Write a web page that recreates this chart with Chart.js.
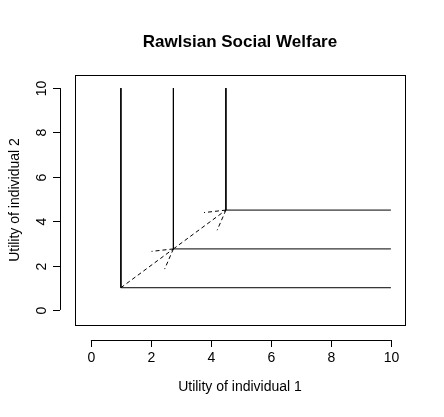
<!DOCTYPE html>
<html><head><script src="https://cdn.jsdelivr.net/npm/chart.js@4"></script>
<style>body{margin:0;background:#fff}#w{width:444px;height:417px}</style></head>
<body><div id="w"><canvas id="c"></canvas></div>
<script>
const title = "Rawlsian Social Welfare";
const xLabel = "Utility of individual 1";
const yLabel = "Utility of individual 2";
const xTicks = [0,2,4,6,8,10];
const yTicks = [0,2,4,6,8,10];
const curve1 = [{x:1,y:10},{x:1,y:1},{x:10,y:1}];
const curve2 = [{x:2.75,y:10},{x:2.75,y:2.75},{x:10,y:2.75}];
const curve3 = [{x:4.5,y:10},{x:4.5,y:4.5},{x:10,y:4.5}];
const arrow1 = [{x:1,y:1},{x:2.75,y:2.75}];
const arrow2 = [{x:2.75,y:2.75},{x:4.5,y:4.5}];
const F = "'Liberation Sans', Arial, sans-serif";

const ln = (d, dash) => ({data:d, borderColor:'#000', borderWidth:1, pointRadius:0, showLine:true, fill:false, borderDash:dash||[]});

const deco = {
  id:'deco',
  afterDraw(ch){
    const c = ch.ctx, a = ch.chartArea, xs = ch.scales.x, ys = ch.scales.y;
    c.save();
    c.strokeStyle='#000'; c.fillStyle='#000'; c.lineWidth=1;
    c.strokeRect(a.left+0.5, a.top+0.5, a.right-a.left, a.bottom-a.top);
    [arrow1, arrow2].forEach(ar=>{
      const x0=xs.getPixelForValue(ar[0].x), y0=ys.getPixelForValue(ar[0].y);
      const x1=xs.getPixelForValue(ar[1].x), y1=ys.getPixelForValue(ar[1].y);
      const ang=Math.atan2(y1-y0,x1-x0), L=22;
      c.setLineDash([4,3]);
      [Math.PI/6,-Math.PI/6].forEach(d=>{
        c.beginPath(); c.moveTo(x1,y1);
        c.lineTo(x1-L*Math.cos(ang+d), y1-L*Math.sin(ang+d)); c.stroke();
      });
    });
    c.setLineDash([]);
    const ay = a.bottom+15;
    c.beginPath(); c.moveTo(xs.getPixelForValue(xTicks[0]),ay+0.5); c.lineTo(xs.getPixelForValue(xTicks[xTicks.length-1]),ay+0.5);
    c.font = '14px '+F; c.textAlign='center'; c.textBaseline='top';
    xTicks.forEach(t=>{const p=Math.round(xs.getPixelForValue(t))+0.5; c.moveTo(p,ay); c.lineTo(p,ay+7); c.fillText(String(t),p,ay+11);});
    c.stroke();
    const ax = a.left-15;
    c.beginPath(); c.moveTo(ax+0.5,ys.getPixelForValue(yTicks[0])); c.lineTo(ax+0.5,ys.getPixelForValue(yTicks[yTicks.length-1]));
    yTicks.forEach(t=>{const p=Math.round(ys.getPixelForValue(t))+0.5; c.moveTo(ax,p); c.lineTo(ax-7,p);
      c.save(); c.translate(ax-11,p); c.rotate(-Math.PI/2); c.textAlign='center'; c.textBaseline='bottom'; c.fillText(String(t),0,0); c.restore();});
    c.stroke();
    const cx=(a.left+a.right)/2, cy=(a.top+a.bottom)/2;
    c.font='bold 17px '+F; c.textAlign='center'; c.textBaseline='middle';
    c.fillText(title,cx,42);
    c.font='14px '+F; c.fillText(xLabel,cx,387);
    c.save(); c.translate(15,cy); c.rotate(-Math.PI/2); c.fillText(yLabel,0,0); c.restore();
    c.restore();
  }
};

new Chart(document.getElementById('c'),{
  type:'scatter',
  data:{datasets:[ln(curve1),ln(curve2),ln(curve3),ln(arrow1,[4,3]),ln(arrow2,[4,3])]},
  options:{
    responsive:true, maintainAspectRatio:false, animation:false,
    layout:{padding:{left:75,right:39,top:75,bottom:92}},
    plugins:{legend:{display:false},tooltip:{enabled:false}},
    scales:{
      x:{type:'linear',min:-0.53,max:10.47,display:false},
      y:{type:'linear',min:-0.68,max:10.59,display:false}
    }
  },
  plugins:[deco]
});
</script></body></html>
